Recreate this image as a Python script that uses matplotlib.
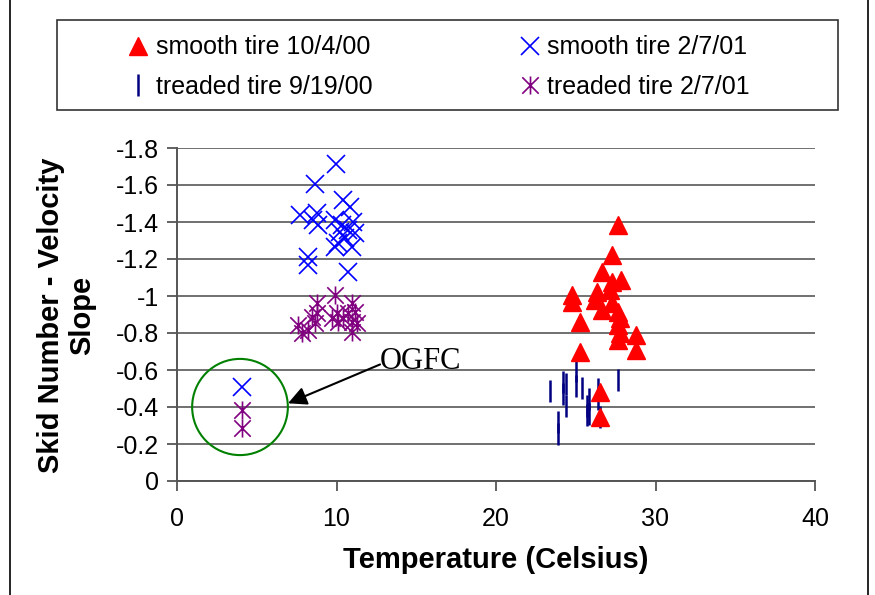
import matplotlib
matplotlib.use("Agg")
import matplotlib.pyplot as plt
from matplotlib.path import Path
from matplotlib.patches import Ellipse, Rectangle
from matplotlib.lines import Line2D

plt.rcParams['font.family'] = ['Liberation Sans', 'DejaVu Sans']

# smooth tire 10/4/00 (red triangles)
smooth_oct_x = [27.66, 27.3, 26.63, 27.25, 27.84, 24.74, 26.31, 27.15, 24.74, 26.2, 27.25,
                26.63, 27.66, 27.77, 27.66, 25.27, 27.77, 28.8, 27.66, 28.8, 25.27, 26.5, 26.5]
smooth_oct_y = [-1.384, -1.222, -1.131, -1.077, -1.086, -1.005, -1.023, -1.032, -0.969, -0.978, -0.96,
                -0.924, -0.915, -0.879, -0.843, -0.861, -0.798, -0.789, -0.762, -0.708, -0.699, -0.483, -0.348]

# smooth tire 2/7/01 (blue x)
smooth_feb_x = [9.94, 8.67, 10.38, 10.85, 7.71, 8.76, 8.54, 8.87, 9.9, 10.32, 11.05, 10.74,
                11.16, 10.22, 9.9, 10.53, 10.95, 10.12, 8.24, 8.24, 10.74, 4.06]
smooth_feb_y = [-1.712, -1.604, -1.519, -1.483, -1.438, -1.447, -1.411, -1.384, -1.411, -1.384, -1.40, -1.357,
                -1.339, -1.348, -1.266, -1.312, -1.266, -1.285, -1.212, -1.168, -1.131, -0.51]

# treaded tire 9/19/00 (navy dashes)
treaded_sep_x = [23.39, 23.9, 23.9, 24.18, 24.18, 24.39, 24.39, 25.02, 25.02, 25.37,
                 25.69, 25.69, 25.85, 25.85, 26.41, 26.41, 26.52, 27.67]
treaded_sep_y = [-0.488, -0.319, -0.254, -0.535, -0.470, -0.524, -0.405, -0.595, -0.514, -0.505,
                 -0.405, -0.357, -0.443, -0.362, -0.497, -0.443, -0.346, -0.546]

# treaded tire 2/7/01 (purple stars)
treaded_feb_x = [9.9, 8.76, 10.95, 8.76, 8.44, 10.0, 9.69, 10.43, 10.74, 11.16, 10.12,
                 10.95, 11.27, 7.6, 8.24, 7.82, 10.95, 8.65, 4.06, 4.06]
treaded_feb_y = [-1.005, -0.96, -0.96, -0.906, -0.888, -0.906, -0.879, -0.879, -0.906, -0.915, -0.861,
                 -0.861, -0.852, -0.843, -0.816, -0.798, -0.807, -0.852, -0.384, -0.285]

x_ticks = [0, 10, 20, 30, 40]
y_ticks = [0, -0.2, -0.4, -0.6, -0.8, -1, -1.2, -1.4, -1.6, -1.8]
y_tick_labels = ['0', '-0.2', '-0.4', '-0.6', '-0.8', '-1', '-1.2', '-1.4', '-1.6', '-1.8']

# annotation
ogfc_center = (3.95, -0.40)
ogfc_size = (6.0, 0.52)
ogfc_arrow_tip = (6.96, -0.42)
ogfc_text_pos = (12.73, -0.645)

star = Path([(-1, -1), (1, 1), (-1, 1), (1, -1), (0, -1.1), (0, 1.1)],
            [Path.MOVETO, Path.LINETO, Path.MOVETO, Path.LINETO, Path.MOVETO, Path.LINETO])

W, H = 875, 595
fig = plt.figure(figsize=(W / 100, H / 100), dpi=100)
ax = fig.add_axes([177 / W, 1 - 481 / H, (815 - 177) / W, (481 - 148) / H])

ax.set_xlim(0, 40)
ax.set_ylim(0, -1.8)
ax.set_xticks(x_ticks)
ax.set_yticks(y_ticks)
ax.set_yticklabels(y_tick_labels)
ax.tick_params(axis='both', labelsize=18, length=7, width=1.3, color='#555555', direction='out')
ax.tick_params(axis='x', pad=12)
ax.tick_params(axis='y', pad=6)
ax.grid(axis='y', color='#707070', linewidth=1.4)
ax.set_axisbelow(True)
for s in ['top', 'right']:
    ax.spines[s].set_visible(False)
for s in ['left', 'bottom']:
    ax.spines[s].set_color('#555555')
    ax.spines[s].set_linewidth(1.4)

ax.plot(treaded_sep_x, treaded_sep_y, linestyle='none', marker='|', markersize=16,
        markeredgewidth=1.8, color='#000080', label='treaded tire 9/19/00', zorder=3)
ax.plot(treaded_feb_x, treaded_feb_y, linestyle='none', marker=star, markersize=13,
        markeredgewidth=1.2, color='#800080', label='treaded tire 2/7/01', zorder=3)
ax.plot(smooth_feb_x, smooth_feb_y, linestyle='none', marker='x', markersize=13,
        markeredgewidth=1.2, color='#0000FF', label='smooth tire 2/7/01', zorder=3)
ax.plot(smooth_oct_x, smooth_oct_y, linestyle='none', marker='^', markersize=13,
        color='#FF0000', markeredgecolor='#FF0000', label='smooth tire 10/4/00', zorder=4)

ax.add_patch(Ellipse(ogfc_center, ogfc_size[0], ogfc_size[1], fill=False,
                     edgecolor='#008000', linewidth=1.5, zorder=5))
ax.annotate('', xy=ogfc_arrow_tip, xytext=(ogfc_text_pos[0], ogfc_text_pos[1] + 0.015),
            arrowprops=dict(arrowstyle='-|>', color='black', lw=1.5, mutation_scale=28,
                            shrinkA=0, shrinkB=0), zorder=6)
ax.text(ogfc_text_pos[0], ogfc_text_pos[1], 'OGFC', fontsize=22, family='Liberation Serif',
        ha='left', va='center', zorder=6)

fig.text(496 / W, 1 - 560 / H, 'Temperature (Celsius)', fontsize=21, fontweight='bold',
         ha='center', va='center')
fig.text(67 / W, 1 - 315 / H, 'Skid Number - Velocity\nSlope', fontsize=21, fontweight='bold',
         ha='center', va='center', rotation=90, linespacing=1.15)

# legend frame
fig.patches.append(Rectangle((57 / W, 1 - 110 / H), (838 - 57) / W, (110 - 20) / H,
                             transform=fig.transFigure, fill=False, edgecolor='#333333',
                             linewidth=1.2))
# outer chart border (left and right edges visible)
fig.add_artist(Line2D([10 / W, 10 / W], [0, 1], transform=fig.transFigure, color='black', linewidth=1.2))
fig.add_artist(Line2D([868 / W, 868 / W], [0, 1], transform=fig.transFigure, color='black', linewidth=1.2))

h = {
    'smooth tire 10/4/00': Line2D([], [], linestyle='none', marker='^', markersize=13, color='#FF0000'),
    'smooth tire 2/7/01': Line2D([], [], linestyle='none', marker='x', markersize=13, markeredgewidth=1.2, color='#0000FF'),
    'treaded tire 9/19/00': Line2D([], [], linestyle='none', marker='|', markersize=16, markeredgewidth=1.8, color='#000080'),
    'treaded tire 2/7/01': Line2D([], [], linestyle='none', marker=star, markersize=13, markeredgewidth=1.2, color='#800080'),
}
order = ['smooth tire 10/4/00', 'treaded tire 9/19/00', 'smooth tire 2/7/01', 'treaded tire 2/7/01']
fig.legend([h[k] for k in order], order, ncol=2, frameon=False, fontsize=18,
           loc='center left', bbox_to_anchor=(128 / W, 1 - 67 / H),
           handlelength=0.8, handletextpad=0.3, columnspacing=5.9, labelspacing=0.62,
           borderpad=0, borderaxespad=0)

fig.savefig('out.png', dpi=100)
